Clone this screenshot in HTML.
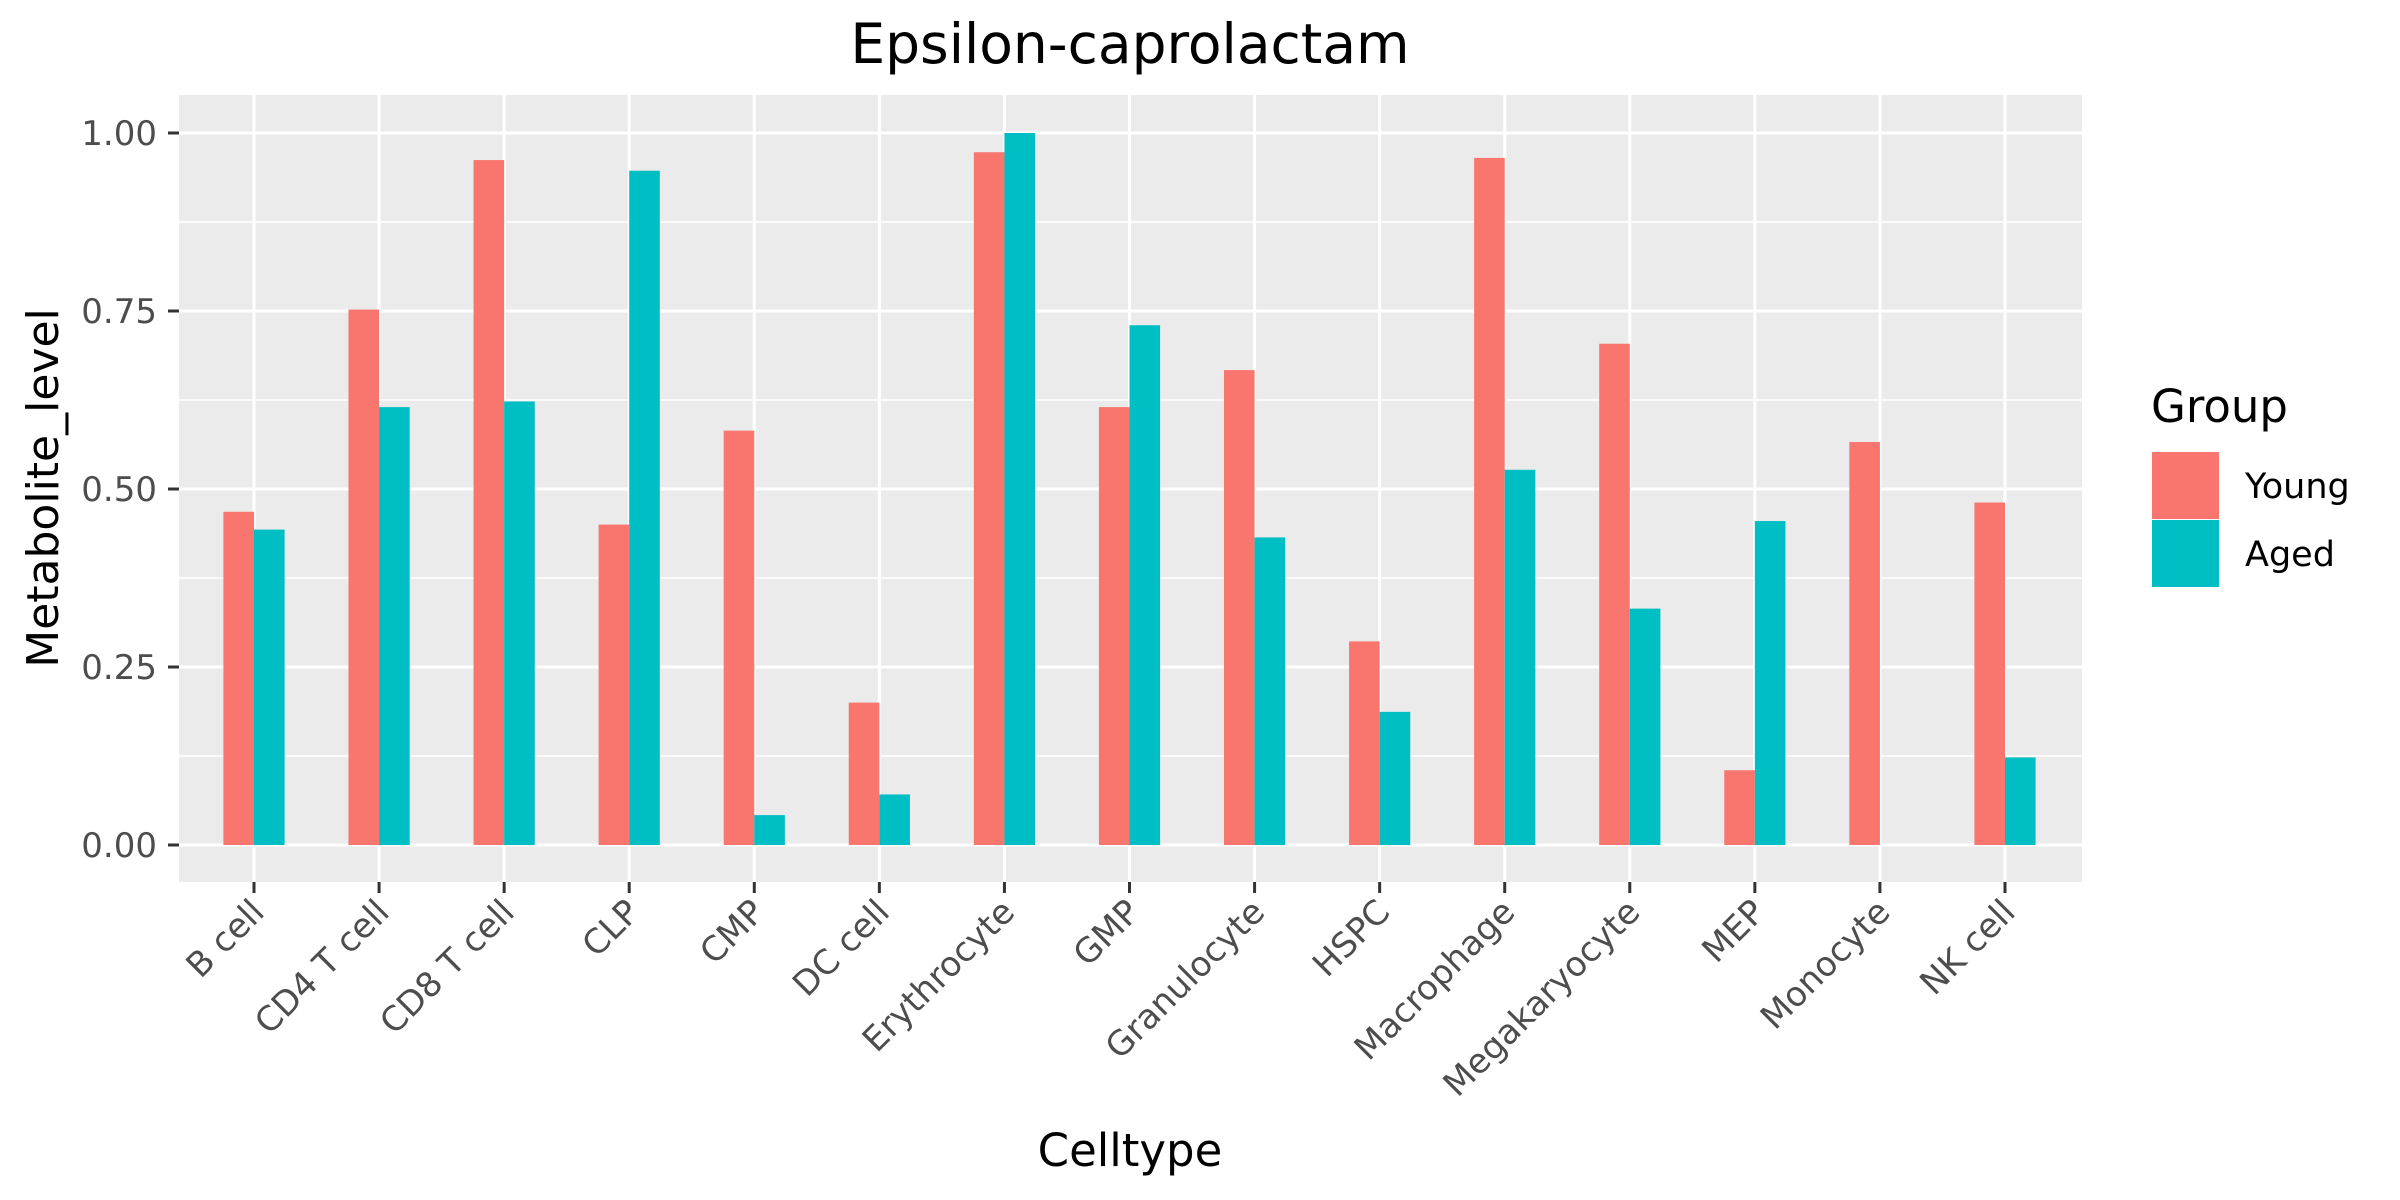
<!DOCTYPE html>
<html><head><meta charset="utf-8"><style>
html,body{margin:0;padding:0;background:#fff;}
svg{display:block;font-family:"DejaVu Sans","Liberation Sans",sans-serif;}
</style></head><body>
<svg id="chart" width="2400" height="1200" viewBox="0 0 2400 1200" xmlns="http://www.w3.org/2000/svg">
<rect x="0" y="0" width="2400" height="1200" fill="#fff"/>
<text x="1130" y="63" font-size="55" text-anchor="middle" fill="#000">Epsilon-caprolactam</text>
<rect x="179" y="95" width="1903" height="787" fill="#ebebeb"/>
<g id="grid"></g>
<g id="bars"></g>
<g id="axes"></g>
<text x="1130" y="1166" font-size="45" text-anchor="middle" fill="#000">Celltype</text>
<text transform="translate(58,488) rotate(-90)" font-size="44" text-anchor="middle" fill="#000">Metabolite_level</text>
<g>
<text x="2151" y="422" font-size="45" fill="#000">Group</text>
<rect x="2152" y="452" width="67" height="67" fill="#f8766d"/>
<rect x="2152" y="520" width="67" height="67" fill="#00bfc4"/>
<text x="2245" y="498" font-size="35" fill="#000">Young</text>
<text x="2245" y="566" font-size="35" fill="#000">Aged</text>
</g>
</svg>
<script>
const categories=["B cell","CD4 T cell","CD8 T cell","CLP","CMP","DC cell","Erythrocyte","GMP","Granulocyte","HSPC","Macrophage","Megakaryocyte","MEP","Monocyte","NK cell"];
const youngValues=[0.468,0.752,0.962,0.450,0.582,0.200,0.973,0.615,0.667,0.286,0.965,0.704,0.105,0.566,0.481];
const agedValues=[0.443,0.615,0.623,0.947,0.042,0.071,1.000,0.730,0.432,0.187,0.527,0.332,0.455,0,0.123];
const yTicks=[0,0.25,0.5,0.75,1.0];
const yTickLabels=["0.00","0.25","0.50","0.75","1.00"];

const NS="http://www.w3.org/2000/svg";
const PL=179,PR=2082,PT=95,PB=882;
const x0=254,x1=2005;
function xScale(i){return x0+(x1-x0)*i/(categories.length-1);}
function yScale(v){return 845-(845-133)*v;}
const bw=30.6;
function mk(tag,attrs,parent){const e=document.createElementNS(NS,tag);for(const k in attrs)e.setAttribute(k,attrs[k]);parent.appendChild(e);return e;}
const grid=document.getElementById('grid'),bars=document.getElementById('bars'),axes=document.getElementById('axes');
for(let i=0;i<yTicks.length-1;i++){const v=(yTicks[i]+yTicks[i+1])/2;
 const l=mk('line',{x1:PL,x2:PR,y1:yScale(v),y2:yScale(v),stroke:'#fff','stroke-width':1.5},grid);
 
 }
yTicks.forEach((v,i)=>{
 const l=mk('line',{x1:PL,x2:PR,y1:yScale(v),y2:yScale(v),stroke:'#fff','stroke-width':3},grid);
 
 
 const t=mk('line',{x1:PL-11,x2:PL,y1:yScale(v),y2:yScale(v),stroke:'#333','stroke-width':3},axes);
 
 
 const tx=mk('text',{x:PL-22,y:yScale(v)+12,'font-size':34,'text-anchor':'end',fill:'#4d4d4d'},axes);
 tx.textContent=yTickLabels[i];
 
 
});
categories.forEach((c,i)=>{
 const x=xScale(i);
 const g=mk('line',{x1:x,x2:x,y1:PT,y2:PB,stroke:'#fff','stroke-width':3},grid);
 
 
 const by=mk('rect',{x:x-bw,y:yScale(youngValues[i]),width:bw,height:yScale(0)-yScale(youngValues[i]),fill:'#f8766d'},bars);
 
 
 const ba=mk('rect',{x:x,y:yScale(agedValues[i]),width:bw,height:yScale(0)-yScale(agedValues[i]),fill:'#00bfc4'},bars);
 
 
 const t=mk('line',{x1:x,x2:x,y1:PB,y2:PB+11,stroke:'#333','stroke-width':3},axes);
 
 
 const tx=mk('text',{transform:`translate(${x+12},${PB+32}) rotate(-45)`,'font-size':34,'text-anchor':'end',fill:'#4d4d4d'},axes);
 tx.textContent=c;
 
 
});
</script>
</body></html>
